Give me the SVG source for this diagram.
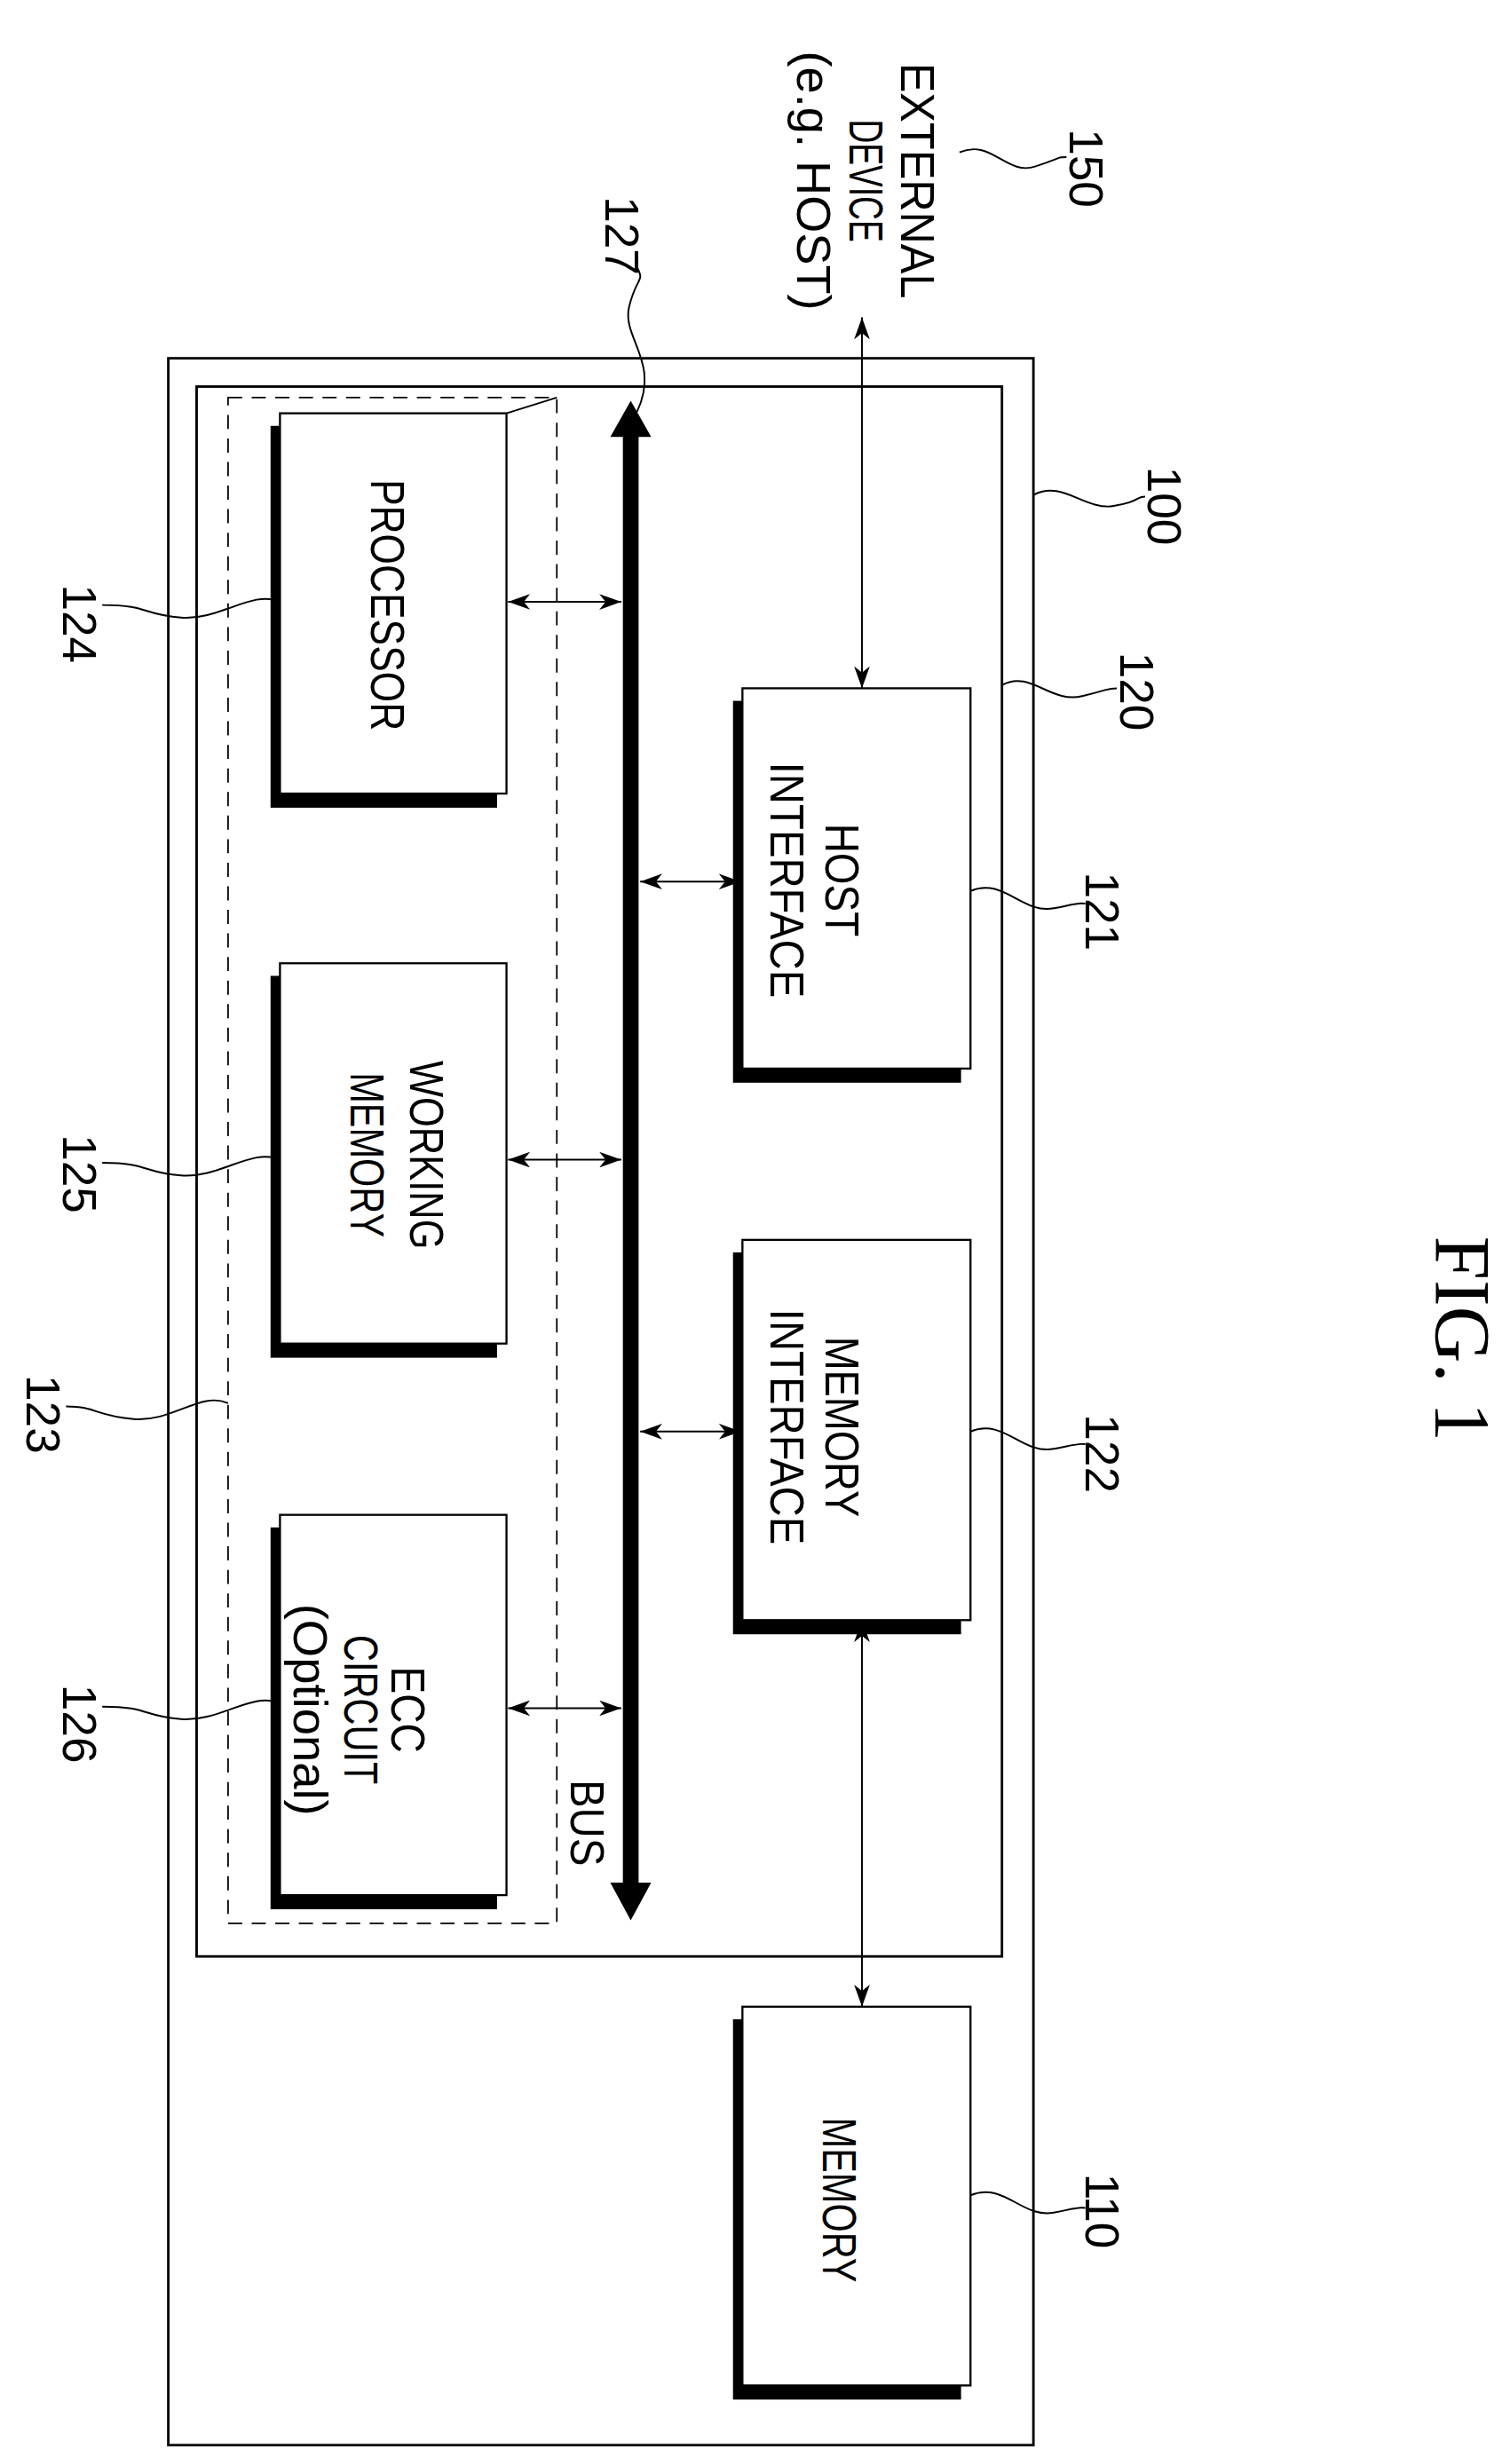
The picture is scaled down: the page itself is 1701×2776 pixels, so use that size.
<svg xmlns="http://www.w3.org/2000/svg" width="1701" height="2776" viewBox="0 0 1701 2776">
<style>
.box{fill:#fff;stroke:#000;stroke-width:1.3}
.sh{fill:#000}
.frame{fill:none;stroke:#000;stroke-width:1.6}
.ln{fill:none;stroke:#000;stroke-width:1.1}
.t{font-family:"Liberation Sans",Arial,sans-serif;font-size:30px;fill:#000;text-anchor:middle}
.n{font-family:"Liberation Sans",Arial,sans-serif;font-size:30px;fill:#000;text-anchor:middle}
.fig{font-family:"Liberation Serif","Times New Roman",serif;font-size:50px;fill:#000;text-anchor:middle}
</style>
<defs>
<marker id="ah" viewBox="0 0 14 10" refX="14" refY="5" markerWidth="14" markerHeight="10" markerUnits="userSpaceOnUse" orient="auto-start-reverse">
<path d="M0,0 L14,5 L0,10 L4,5 Z" fill="#000"/>
</marker>
</defs>
<rect width="1701" height="2776" fill="#fff"/>
<g transform="scale(1.7719 1.7704)">
<g id="n100"><rect class="frame" x="107" y="228" width="550" height="1328"/></g>
<g id="n120"><rect class="frame" x="125" y="246" width="512" height="999"/></g>
<g id="n123"><rect x="145" y="253" width="209" height="971" fill="none" stroke="#000" stroke-width="1" stroke-dasharray="9,6"/><path class="ln" d="M322,263 L354,253"/></g>
<g id="n124"><rect class="sh" x="172" y="271" width="144" height="243"/><rect class="box" x="178" y="263" width="144" height="242"/>
<text class="t" transform="translate(236,385) rotate(90)" textLength="160" lengthAdjust="spacingAndGlyphs">PROCESSOR</text></g>
<g id="n125"><rect class="sh" x="172" y="621" width="144" height="243"/><rect class="box" x="178" y="613" width="144" height="242"/>
<text class="t" transform="translate(261,735) rotate(90)"><tspan x="0" y="0" textLength="120" lengthAdjust="spacingAndGlyphs">WORKING</tspan><tspan x="0" y="38" textLength="105" lengthAdjust="spacingAndGlyphs">MEMORY</tspan></text></g>
<g id="n126"><rect class="sh" x="172" y="972" width="144" height="243"/><rect class="box" x="178" y="964" width="144" height="242"/>
<text class="t" transform="translate(249,1088) rotate(90)"><tspan x="0" y="0" textLength="55" lengthAdjust="spacingAndGlyphs">ECC</tspan><tspan x="0" y="30" textLength="95" lengthAdjust="spacingAndGlyphs">CIRCUIT</tspan><tspan x="0" y="62" textLength="135" lengthAdjust="spacingAndGlyphs">(Optional)</tspan></text></g>
<g id="n121"><rect class="sh" x="466" y="446" width="145" height="243"/><rect class="box" x="472" y="438" width="145" height="242"/>
<text class="t" transform="translate(525,560) rotate(90)"><tspan x="0" y="0" textLength="72" lengthAdjust="spacingAndGlyphs">HOST</tspan><tspan x="0" y="35" textLength="150" lengthAdjust="spacingAndGlyphs">INTERFACE</tspan></text></g>
<g id="n122"><rect class="sh" x="466" y="797" width="145" height="243"/><rect class="box" x="472" y="789" width="145" height="242"/>
<text class="t" transform="translate(525,908) rotate(90)"><tspan x="0" y="0" textLength="115" lengthAdjust="spacingAndGlyphs">MEMORY</tspan><tspan x="0" y="35" textLength="150" lengthAdjust="spacingAndGlyphs">INTERFACE</tspan></text></g>
<g id="n110"><rect class="sh" x="466" y="1285" width="145" height="242"/><rect class="box" x="472" y="1277" width="145" height="241"/>
<text class="t" transform="translate(523,1400) rotate(90)" textLength="105" lengthAdjust="spacingAndGlyphs">MEMORY</text></g>
<g id="n127"><rect x="396" y="275" width="10" height="926" fill="#000"/><path d="M401,255 L388,278 L414,278 Z M401,1222 L388,1198 L414,1198 Z" fill="#000"/>
<text class="t" transform="translate(363,1160) rotate(90)" textLength="55" lengthAdjust="spacingAndGlyphs">BUS</text></g>
<g id="n150"><text class="t" transform="translate(573,115) rotate(90)"><tspan x="0" y="0" textLength="150" lengthAdjust="spacingAndGlyphs">EXTERNAL</tspan><tspan x="0" y="33" textLength="78" lengthAdjust="spacingAndGlyphs">DEVICE</tspan><tspan x="0" y="66" textLength="165" lengthAdjust="spacingAndGlyphs">(e.g. HOST)</tspan></text></g>
<g id="connectors">
<path class="ln" d="M548,202 L548,438" marker-start="url(#ah)" marker-end="url(#ah)"/>
<path class="ln" d="M548,1031 L548,1277" marker-start="url(#ah)" marker-end="url(#ah)"/>
<path class="ln" d="M323,383 L395,383" marker-start="url(#ah)" marker-end="url(#ah)"/>
<path class="ln" d="M323,738 L395,738" marker-start="url(#ah)" marker-end="url(#ah)"/>
<path class="ln" d="M323,1087 L395,1087" marker-start="url(#ah)" marker-end="url(#ah)"/>
<path class="ln" d="M407,561 L471,561" marker-start="url(#ah)" marker-end="url(#ah)"/>
<path class="ln" d="M407,911 L471,911" marker-start="url(#ah)" marker-end="url(#ah)"/>
<path class="ln" d="M610,97 C630,88 640,112 658,106 S672,100 678,100"/>
<path class="ln" d="M405,262 C420,230 395,215 400,195 S410,180 405,170"/>
<path class="ln" d="M657,315 C675,305 690,325 708,322 S722,316 728,316"/>
<path class="ln" d="M637,436 C655,426 668,448 688,443 S704,438 710,438"/>
<path class="ln" d="M617,567 C638,558 650,582 670,578 S684,575 690,575"/>
<path class="ln" d="M617,911 C638,902 650,926 670,922 S684,919 690,919"/>
<path class="ln" d="M617,1397 C638,1388 650,1412 670,1408 S684,1405 690,1405"/>
<path class="ln" d="M178,383 C160,375 140,395 115,393 S95,385 65,385"/>
<path class="ln" d="M178,738 C160,730 140,750 115,748 S95,740 65,740"/>
<path class="ln" d="M145,893 C128,885 110,905 85,903 S62,895 42,895"/>
<path class="ln" d="M178,1084 C160,1076 140,1096 115,1094 S95,1086 65,1086"/>
</g>
<g id="labels">
<text class="n" transform="translate(680,107) rotate(90)">150</text>
<text class="n" transform="translate(385,150) rotate(90)">127</text>
<text class="n" transform="translate(730,322) rotate(90)">100</text>
<text class="n" transform="translate(712,440) rotate(90)">120</text>
<text class="n" transform="translate(690,580) rotate(90)">121</text>
<text class="n" transform="translate(690,925) rotate(90)">122</text>
<text class="n" transform="translate(690,1407) rotate(90)">110</text>
<text class="n" transform="translate(40,397) rotate(90)">124</text>
<text class="n" transform="translate(40,747) rotate(90)">125</text>
<text class="n" transform="translate(17,900) rotate(90)">123</text>
<text class="n" transform="translate(40,1097) rotate(90)">126</text>
<text class="fig" transform="translate(913,852) rotate(90)">FIG. 1</text>
</g>
</g>
</svg>
